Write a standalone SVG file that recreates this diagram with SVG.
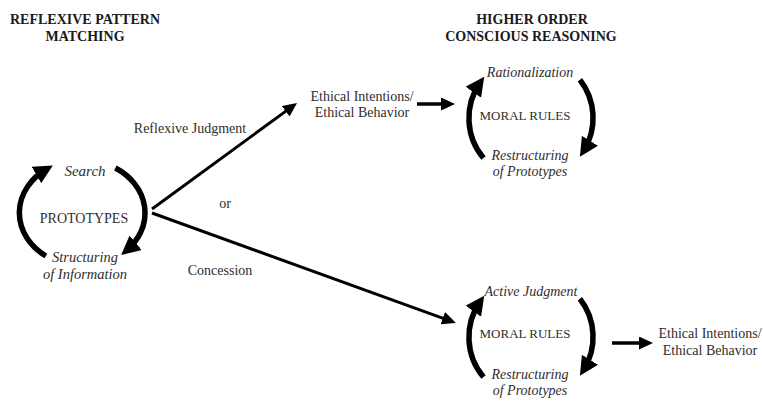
<svg xmlns="http://www.w3.org/2000/svg" width="763" height="403" viewBox="0 0 763 403">
<defs>
<style>
.t{font-family:"Liberation Serif","Times New Roman",serif;fill:#2e2e2e;text-anchor:middle}
.i{font-style:italic;font-size:14px}
.il{font-style:italic;font-size:14.5px}
.r{font-size:14px}
.h{font-weight:bold;font-size:14px;fill:#1a1a1a}
.arc{fill:none;stroke:#000;stroke-width:5.5;marker-end:url(#big)}
.ln{fill:none;stroke:#000;stroke-width:3;marker-end:url(#sm)}
</style>
<marker id="big" markerUnits="userSpaceOnUse" markerWidth="20" markerHeight="20" viewBox="0 0 20 20" refX="12" refY="9.5" orient="auto">
<path d="M0,0 L19,9.5 L0,19 z" fill="#000"/>
</marker>
<marker id="sm" markerUnits="userSpaceOnUse" markerWidth="16" markerHeight="16" viewBox="0 0 16 16" refX="10" refY="6.5" orient="auto">
<path d="M0,0 L14,6.5 L0,13 z" fill="#000"/>
</marker>
</defs>
<rect width="763" height="403" fill="#fff"/>

<g id="title-left">
<text class="t h" x="85" y="24">REFLEXIVE PATTERN</text>
<text class="t h" x="85" y="41">MATCHING</text>
</g>
<g id="title-right">
<text class="t h" x="532" y="24">HIGHER ORDER</text>
<text class="t h" x="531" y="41">CONSCIOUS REASONING</text>
</g>

<g id="prototypes">
<path class="arc" d="M45.9,256 A63,53 0 0 1 46.8,169"/>
<path class="arc" d="M115.4,168 A63,53 0 0 1 126.5,250.5"/>
<text class="t il" x="85" y="176" style="font-size:15px">Search</text>
<text class="t" style="font-size:14px" x="84" y="223">PROTOTYPES</text>
<text class="t il" x="85" y="262">Structuring</text>
<text class="t il" x="85" y="279">of Information</text>
</g>

<g id="moral-top">
<path class="arc" d="M483.5,158 A62,62 0 0 1 480.2,82.4"/>
<path class="arc" d="M579.9,79.8 A62,62 0 0 1 583.6,150.9"/>
<text class="t i" x="530" y="77">Rationalization</text>
<text class="t" style="font-size:13px" x="525" y="120">MORAL RULES</text>
<text class="t i" x="530" y="160">Restructuring</text>
<text class="t i" x="530" y="176">of Prototypes</text>
</g>

<g id="moral-bottom">
<path class="arc" d="M483.5,377 A62,62 0 0 1 480.2,301.4"/>
<path class="arc" d="M579.9,298.8 A62,62 0 0 1 583.6,369.9"/>
<text class="t i" x="531" y="296">Active Judgment</text>
<text class="t" style="font-size:13px" x="525" y="338">MORAL RULES</text>
<text class="t i" x="530" y="379">Restructuring</text>
<text class="t i" x="530" y="395">of Prototypes</text>
</g>

<g id="ethical-top">
<text class="t r" x="362" y="101">Ethical Intentions/</text>
<text class="t r" x="362" y="117">Ethical Behavior</text>
</g>
<g id="ethical-bottom">
<text class="t r" x="710" y="338">Ethical Intentions/</text>
<text class="t r" x="710" y="355">Ethical Behavior</text>
</g>

<g id="connectors">
<path class="ln" d="M152,209 L293.8,105.4"/>
<path class="ln" d="M152,213 L452.2,321.6"/>
<path class="ln" style="stroke-width:3.5" d="M417,104 L451,104"/>
<path class="ln" style="stroke-width:3.5" d="M612,343 L649,343"/>
<text class="t r" x="190" y="133">Reflexive Judgment</text>
<text class="t r" x="225" y="208">or</text>
<text class="t r" x="220" y="275">Concession</text>
</g>
</svg>
